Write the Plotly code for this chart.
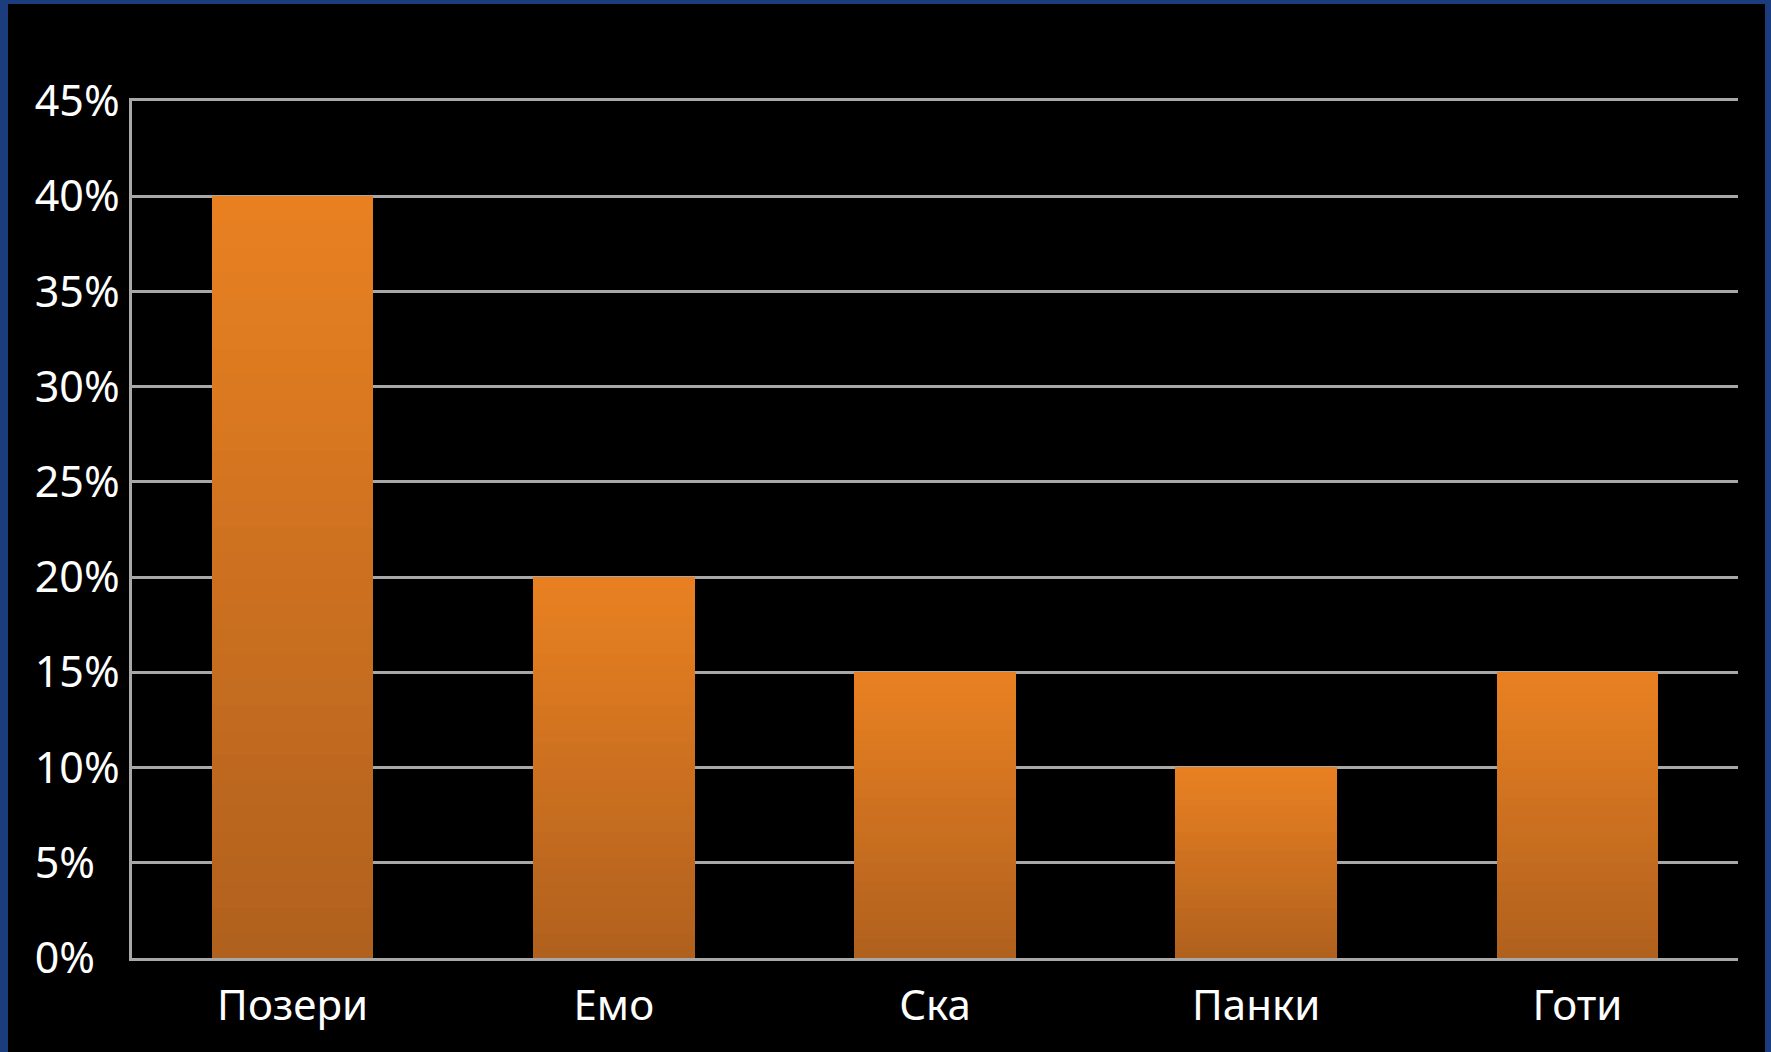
import plotly.graph_objects as go

categories = ["Позери", "Емо", "Ска", "Панки", "Готи"]
values = [40, 20, 15, 10, 15]
y_tickvals = [0, 5, 10, 15, 20, 25, 30, 35, 40, 45]
y_ticktext = ["0%\u2007", "5%\u2007", "10%", "15%", "20%", "25%", "30%", "35%", "40%", "45%"]

W, H = 1771, 1052
ML, MT = 132, 101
MR = W - 1738
MB = H - 958

top_rgb = (233, 129, 33)
bot_rgb = (176, 96, 30)
N = 30

fig = go.Figure()
for i in range(N):
    t = (i + 0.5) / N
    c = tuple(round(b + (a - b) * t) for a, b in zip(top_rgb, bot_rgb))
    col = "rgb(%d,%d,%d)" % c
    fig.add_trace(go.Bar(
        x=categories,
        y=[v / N for v in values],
        marker=dict(color=col, line=dict(color=col, width=1)),
        showlegend=False,
        hoverinfo="skip",
    ))

pw = W - ML - MR
ph = H - MT - MB
fig.add_shape(type="rect", xref="paper", yref="paper",
              x0=(8 - ML) / pw, x1=(1765 - ML) / pw,
              y0=(H - MB - (H + 20)) / ph, y1=(H - MB - 4) / ph,
              fillcolor="black", line=dict(width=0), layer="below")

fig.update_layout(
    width=W, height=H,
    margin=dict(l=ML, r=MR, t=MT, b=MB),
    paper_bgcolor="#1B3D7D",
    plot_bgcolor="black",
    barmode="stack",
    bargap=0.5,
    font=dict(family="Noto Sans", color="white"),
)
fig.update_xaxes(
    showgrid=False, showline=True, mirror=True, linecolor="#A8A8A8", linewidth=2.5,
    tickfont=dict(size=42, color="white"), ticks="", ticklabelstandoff=9,
    fixedrange=True,
)
fig.update_yaxes(
    range=[0, 45], tickvals=y_tickvals, ticktext=y_ticktext,
    showgrid=True, gridcolor="#A8A8A8", gridwidth=2.5,
    showline=True, linecolor="#A8A8A8", linewidth=2.5, zeroline=False,
    tickfont=dict(size=43, color="white"), ticks="", ticklabelstandoff=1,
    fixedrange=True,
)
fig.write_html("out.html", config={"displayModeBar": False},
               post_script="document.body.style.margin='0';document.body.style.background='#1B3D7D';")
